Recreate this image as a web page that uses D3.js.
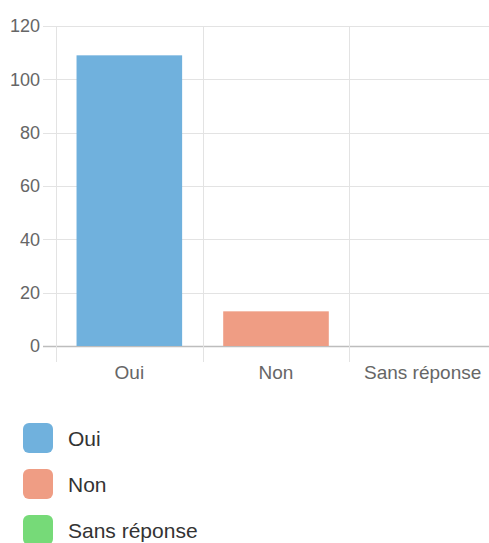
<!DOCTYPE html>
<html>
<head>
<meta charset="utf-8">
<script src="https://cdn.jsdelivr.net/npm/d3@7/dist/d3.min.js"></script>
<style>
  html, body { margin: 0; padding: 0; background: #fff; }
  svg { display: block; font-family: "Liberation Sans", Arial, sans-serif; }
</style>
</head>
<body>
<svg id="chart" width="489" height="543"></svg>
<script>
// Réponses au sondage
const categories = ["Oui", "Non", "Sans réponse"];
const values = [109, 13, 0];
const colors = ["#70b1dd", "#ef9d84", "#76da78"];
const yTicks = [0, 20, 40, 60, 80, 100, 120];

const svg = d3.select("#chart");
const margin = { top: 26, left: 56, right: -7, bottom: 197 };
const W = 489, H = 543;
const plotBottom = H - margin.bottom;

const x = d3.scaleBand()
  .domain(categories)
  .range([margin.left, W - margin.right])
  .paddingInner(0).paddingOuter(0);

const y = d3.scaleLinear()
  .domain([0, 120])
  .range([plotBottom, margin.top]);

const grid = "#e3e3e3";

// horizontal grid lines + y tick marks
svg.append("g")
  .selectAll("line")
  .data(yTicks)
  .join("line")
  .attr("x1", margin.left - 13)
  .attr("x2", W)
  .attr("y1", d => Math.round(y(d)) + 0.5)
  .attr("y2", d => Math.round(y(d)) + 0.5)
  .attr("stroke", d => d === 0 ? "#bdbdbd" : grid)
  .attr("stroke-width", d => d === 0 ? 1.5 : 1);

// vertical grid lines at category boundaries
const bounds = categories.map(c => x(c)).concat([x(categories[categories.length - 1]) + x.bandwidth()]);
svg.append("g")
  .selectAll("line")
  .data(bounds)
  .join("line")
  .attr("x1", d => Math.round(d) + 0.5)
  .attr("x2", d => Math.round(d) + 0.5)
  .attr("y1", margin.top)
  .attr("y2", plotBottom + 16)
  .attr("stroke", grid);

// y tick labels
svg.append("g")
  .selectAll("text")
  .data(yTicks)
  .join("text")
  .attr("x", margin.left - 16)
  .attr("y", d => y(d))
  .attr("dy", "0.35em")
  .attr("text-anchor", "end")
  .attr("fill", "#666")
  .attr("font-size", 18)
  .text(d => d);

// x tick labels
svg.append("g")
  .selectAll("text")
  .data(categories)
  .join("text")
  .attr("x", d => x(d) + x.bandwidth() / 2)
  .attr("y", plotBottom + 26)
  .attr("dy", "0.35em")
  .attr("text-anchor", "middle")
  .attr("fill", "#666")
  .attr("font-size", 19)
  .text(d => d);

// bars
const barW = x.bandwidth() * 0.72;
svg.append("g")
  .selectAll("rect")
  .data(categories.map((c, i) => ({ c, v: values[i], col: colors[i] })))
  .join("rect")
  .attr("x", d => x(d.c) + (x.bandwidth() - barW) / 2)
  .attr("y", d => y(d.v))
  .attr("width", barW)
  .attr("height", d => y(0) - y(d.v))
  .attr("fill", d => d.col);

// legend
const legend = svg.append("g")
  .selectAll("g")
  .data(categories.map((c, i) => ({ c, col: colors[i] })))
  .join("g")
  .attr("transform", (d, i) => `translate(23, ${423 + i * 46})`);

legend.append("rect")
  .attr("width", 30)
  .attr("height", 30)
  .attr("rx", 6)
  .attr("fill", d => d.col);

legend.append("text")
  .attr("x", 45)
  .attr("y", 16)
  .attr("dy", "0.35em")
  .attr("fill", "#333")
  .attr("font-size", 21)
  .text(d => d.c);
</script>
</body>
</html>
